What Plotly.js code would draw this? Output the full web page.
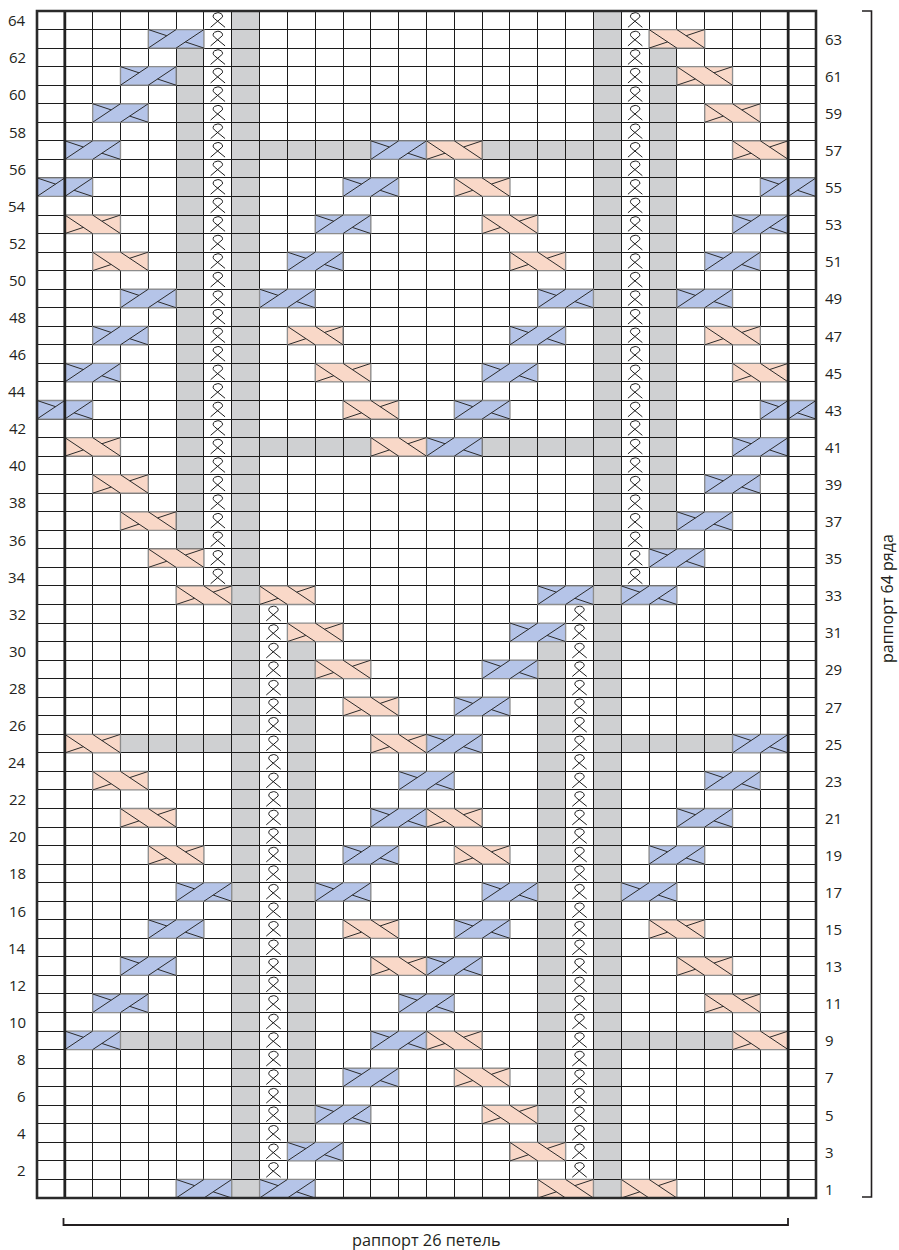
<!DOCTYPE html>
<html><head><meta charset="utf-8">
<script src="https://cdn.plot.ly/plotly-3.0.1.min.js"></script>
<style>html,body{margin:0;padding:0;background:#fff}</style>
</head><body><div id="chart" style="width:899px;height:1250px"></div>
<script>
// ---- chart data ----
const NCOLS = 28;   // 26-stitch repeat + one extra stitch on each side
const NROWS = 64;
const leftRowLabels  = [2,4,6,8,10,12,14,16,18,20,22,24,26,28,30,32,34,36,38,40,42,44,46,48,50,52,54,56,58,60,62,64];
const rightRowLabels = [1,3,5,7,9,11,13,15,17,19,21,23,25,27,29,31,33,35,37,39,41,43,45,47,49,51,53,55,57,59,61,63];
const bottomLabel = "раппорт 26 петель";
const sideLabel = "раппорт 64 ряда";

// cables: [row, left column] (column 0 = extra stitch at left)
const blueCables = [
  [1,5],[1,8],[3,9],[5,10],[7,11],[9,1],[9,12],[11,2],[11,13],[13,3],[13,14],
  [15,4],[15,15],[17,5],[17,10],[17,16],[17,21],[19,11],[19,22],[21,12],[21,23],
  [23,13],[23,24],[25,14],[25,25],[27,15],[29,16],[31,17],[33,18],[33,21],
  [35,22],[37,23],[39,24],[41,14],[41,25],[43,0],[43,15],[43,26],[45,1],[45,16],
  [47,2],[47,17],[49,3],[49,8],[49,18],[49,23],[51,9],[51,24],[53,10],[53,25],
  [55,0],[55,11],[55,26],[57,1],[57,12],[59,2],[61,3],[63,4]
];
const pinkCables = [
  [1,18],[1,21],[3,17],[5,16],[7,15],[9,14],[9,25],[11,24],[13,12],[13,23],
  [15,11],[15,22],[19,4],[19,15],[21,3],[21,14],[23,2],[25,1],[25,12],
  [27,11],[29,10],[31,9],[33,5],[33,8],[35,4],[37,3],[39,2],[41,1],[41,12],
  [43,11],[45,10],[45,25],[47,9],[47,24],[51,2],[51,17],[53,1],[53,16],
  [55,15],[57,14],[57,25],[59,24],[61,23],[63,22]
];
// grey (no stitch) runs
const grayColumnRuns = [[7,1,64],[20,1,64],[5,36,62],[22,36,62],[9,4,30],[18,4,30]]; // [col, fromRow, toRow]
const grayRowRuns = [[57,8,11],[57,16,19],[41,8,11],[41,16,19],[25,3,6],[25,21,24],[9,3,6],[9,21,24]]; // [row, fromCol, toCol]
// twisted stitch runs: [col, fromRow, toRow]
const twistedStitchRuns = [[6,34,64],[21,34,64],[8,2,32],[19,2,32]];

// ---- styles ----
const BLUE = '#b5c4e8', PINK = '#f9d8c8', GRAY = '#cfd0d2', INK = '#231f20';
const FONT = 'Open Sans, Noto Sans, sans-serif';

const shapes = [];
// grey cells (below grid lines)
grayColumnRuns.forEach(([c, a, b]) => shapes.push({type:'rect', xref:'x', yref:'y', x0:c, x1:c+1, y0:a-1, y1:b,
  fillcolor:GRAY, line:{width:0}, layer:'below'}));
grayRowRuns.forEach(([r, a, b]) => shapes.push({type:'rect', xref:'x', yref:'y', x0:a, x1:b+1, y0:r-1, y1:r,
  fillcolor:GRAY, line:{width:0}, layer:'below'}));

function cable(row, col, color, blue) {
  const x0 = col, yb = row - 1, yt = row;
  shapes.push({type:'rect', xref:'x', yref:'y', x0:x0, x1:x0+2, y0:yb, y1:yt, fillcolor:color,
    line:{color:'#8c8c8c', width:1.3}, layer:'above'});
  let p;
  if (blue) {
    p = `M ${x0} ${yb} L ${x0+1} ${yt} M ${x0+1} ${yb} L ${x0+2} ${yt} ` +
        `M ${x0} ${yt} L ${x0+2/3} ${yt-1/3} M ${x0+4/3} ${yb+1/3} L ${x0+2} ${yb}`;
  } else {
    p = `M ${x0} ${yt} L ${x0+1} ${yb} M ${x0+1} ${yt} L ${x0+2} ${yb} ` +
        `M ${x0+2} ${yt} L ${x0+4/3} ${yt-1/3} M ${x0+2/3} ${yb+1/3} L ${x0} ${yb}`;
  }
  shapes.push({type:'path', xref:'x', yref:'y', path:p, line:{color:'#2b2b2b', width:1}, layer:'above'});
}
blueCables.forEach(([r, c]) => cable(r, c, BLUE, true));
pinkCables.forEach(([r, c]) => cable(r, c, PINK, false));

// thick lines: repeat boundaries and outer frame
[1, 27].forEach(x => shapes.push({type:'line', xref:'x', yref:'y', x0:x, x1:x, y0:0, y1:NROWS,
  line:{color:'#222', width:2.8}, layer:'above'}));
shapes.push({type:'rect', xref:'paper', yref:'paper', x0:0, x1:1, y0:0, y1:1,
  line:{color:'#2a2a2a', width:2.6}, layer:'above'});

// repeat brackets (layout decorations)
const W = 899, H = 1250, ML = 37, MR = 83, MT = 11, MB = 52;
const pw = W - ML - MR, ph = H - MT - MB;
const px = v => (v - ML) / pw, py = v => (H - MB - v) / ph;
shapes.push({type:'path', xref:'paper', yref:'paper',
  path:`M ${px(862)} ${py(11)} L ${px(871.5)} ${py(11)} L ${px(871.5)} ${py(1197)} L ${px(862)} ${py(1197)}`,
  line:{color:INK, width:1.6}});
shapes.push({type:'path', xref:'paper', yref:'paper',
  path:`M ${px(63.5)} ${py(1218)} L ${px(63.5)} ${py(1225)} L ${px(788)} ${py(1225)} L ${px(788)} ${py(1218)}`,
  line:{color:INK, width:1.8}});

// twisted stitch symbols
const kx = [], ky = [];
twistedStitchRuns.forEach(([c, a, b]) => {
  for (let r = a; r <= b; r++) {
    const cx = c + 0.5, ecy = r - 0.28, rx = 0.17, ry = 0.19;
    kx.push(cx - 0.26); ky.push(r - 0.88);
    for (let ang = -45; ang <= 225; ang += 15) {
      const t = ang * Math.PI / 180;
      kx.push(cx + rx * Math.cos(t)); ky.push(ecy + ry * Math.sin(t));
    }
    kx.push(cx + 0.26); ky.push(r - 0.88);
    kx.push(null); ky.push(null);
  }
});

const annotations = [];
leftRowLabels.forEach(r => annotations.push({xref:'paper', x:0, xanchor:'right', xshift:-9, yref:'y', y:r-0.5,
  yanchor:'middle', text:String(r), showarrow:false, font:{family:FONT, size:15, color:INK}}));
rightRowLabels.forEach(r => annotations.push({xref:'paper', x:1, xanchor:'left', xshift:7, yref:'y', y:r-0.5,
  yanchor:'middle', text:String(r), showarrow:false, font:{family:FONT, size:15, color:INK}}));
annotations.push({xref:'paper', yref:'paper', x:px(426), y:py(1240), xanchor:'center', yanchor:'middle',
  text:bottomLabel, showarrow:false, borderpad:0, font:{family:FONT, size:16.3, color:INK}});
annotations.push({xref:'paper', yref:'paper', x:px(887), y:py(599), xanchor:'center', yanchor:'middle',
  text:sideLabel, textangle:-90, showarrow:false, borderpad:0, font:{family:FONT, size:16, color:INK}});

const axisCommon = {tickmode:'linear', tick0:0, dtick:1, showgrid:true, gridcolor:'#1c1c1c', gridwidth:1,
  showticklabels:false, ticks:'', zeroline:false, showline:false, fixedrange:true};

Plotly.newPlot('chart', [{
  type:'scatter', mode:'lines', x:kx, y:ky, line:{color:'#1a1a1a', width:1}, hoverinfo:'skip',
  connectgaps:false, showlegend:false
}], {
  width:W, height:H, margin:{l:ML, r:MR, t:MT, b:MB, pad:0},
  paper_bgcolor:'#fff', plot_bgcolor:'#fff', showlegend:false,
  xaxis:Object.assign({range:[0, NCOLS]}, axisCommon),
  yaxis:Object.assign({range:[0, NROWS]}, axisCommon),
  shapes:shapes, annotations:annotations
}, {displayModeBar:false, staticPlot:true});
</script></body></html>
